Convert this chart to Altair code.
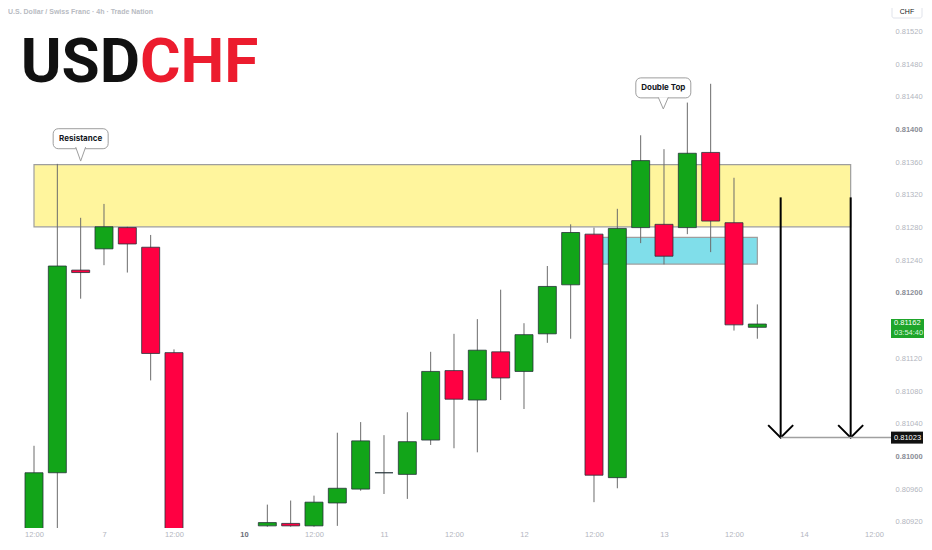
import altair as alt
import pandas as pd

# ---------------- data ----------------
candle_idx = [0, 1, 2, 3, 4, 5, 6, 10, 11, 12, 13, 14, 15, 16, 17, 18, 19, 20, 21, 22,
              23, 24, 25, 26, 27, 28, 29, 30, 31]
opens  = [0.80900, 0.80980, 0.81228, 0.81254, 0.81280, 0.81256, 0.81127, 0.80915, 0.80918, 0.80915,
          0.80943, 0.80960, 0.80980, 0.80978, 0.81020, 0.81105, 0.81069, 0.81128, 0.81104, 0.81150,
          0.81210, 0.81272, 0.80974, 0.81280, 0.81284, 0.81280, 0.81372, 0.81286, 0.81158]
highs  = [0.81013, 0.81358, 0.81292, 0.81309, 0.81281, 0.81271, 0.81131, 0.80941, 0.80946, 0.80952,
          0.81029, 0.81042, 0.81026, 0.81054, 0.81128, 0.81150, 0.81168, 0.81204, 0.81163, 0.81233,
          0.81284, 0.81280, 0.81303, 0.81393, 0.81376, 0.81433, 0.81456, 0.81341, 0.81186]
lows   = [0.80895, 0.80890, 0.81193, 0.81234, 0.81225, 0.81093, 0.80850, 0.80914, 0.80914, 0.80914,
          0.80915, 0.80958, 0.80954, 0.80948, 0.81014, 0.81010, 0.81005, 0.81069, 0.81058, 0.81139,
          0.81144, 0.80944, 0.80961, 0.81261, 0.81235, 0.81272, 0.81250, 0.81154, 0.81144]
closes = [0.80980, 0.81233, 0.81225, 0.81281, 0.81260, 0.81126, 0.80880, 0.80919, 0.80915, 0.80944,
          0.80961, 0.81019, 0.80980, 0.81018, 0.81104, 0.81070, 0.81130, 0.81096, 0.81149, 0.81208,
          0.81274, 0.80977, 0.81279, 0.81362, 0.81245, 0.81371, 0.81288, 0.81161, 0.81162]

x_tick_values = [0, 3, 6, 9, 12, 15, 18, 21, 24, 27, 30, 33, 36]
x_tick_labels = ["12:00", "7", "12:00", "10", "12:00", "11", "12:00", "12", "12:00", "13", "12:00", "14", "12:00"]
# 0.81160 is hidden behind the last-price tag in the reference
y_tick_values = [0.8092, 0.8096, 0.8100, 0.8104, 0.8108, 0.8112, 0.8120, 0.8124,
                 0.8128, 0.8132, 0.8136, 0.8140, 0.8144, 0.8148, 0.8152]

res_zone = {"x0": 0, "x1": 35, "lo": 0.81281, "hi": 0.81357}
neck_zone = {"x0": 24.3, "x1": 31, "lo": 0.812354, "hi": 0.81268}

arrow_x = [32, 35]
arrow_top = [0.81317, 0.81317]
target_price = 0.81023
last_price = 0.81162

callout_text = ["Resistance", "Double Top"]
callout_x = [2.0, 26.97]
callout_y = [0.813888, 0.81451]
pointer_y = [0.81370, 0.814323]

# ---------------- frames ----------------
candles = pd.DataFrame({"i": candle_idx, "open": opens, "high": highs, "low": lows, "close": closes})
candles["dir"] = ["up" if c > o else ("down" if c < o else "flat") for o, c in zip(opens, closes)]
arrows = pd.DataFrame({"i": arrow_x, "top": arrow_top, "tip": [target_price] * len(arrow_x)})
callouts = pd.DataFrame({"t": callout_text, "i": callout_x, "p": callout_y, "pp": pointer_y})

# ---------------- geometry ----------------
W, H = 881, 520
PX = 23.3333                      # pixels per 4h candle
PY = 81713.0                      # pixels per 1.0 of price
xs = alt.Scale(domain=[-26 / PX, (W - 26) / PX], nice=False, zero=False, padding=0)
ys = alt.Scale(domain=[0.8152 - (H - 23.5) / PY, 0.8152 + 23.5 / PY], nice=False, zero=False, padding=0)

AF = "Liberation Sans"
lab_expr = "[" + ",".join("'%s'" % s for s in x_tick_labels) + "][round(datum.value/3)]"
x_axis = alt.Axis(values=x_tick_values, labelExpr=lab_expr, grid=False, ticks=False, domain=False,
                  title=None, labelFontSize=7.5, labelFont=AF, labelPadding=2,
                  labelColor={"condition": {"test": "datum.value == 9", "value": "#6a6d78"}, "value": "#b2b5be"},
                  labelFontWeight={"condition": {"test": "datum.value == 9", "value": "bold"}, "value": "normal"},
                  labelOverlap=False, labelFlush=False, labelBound=False)
bold_test = "abs(datum.value-0.81)<1e-7 || abs(datum.value-0.812)<1e-7 || abs(datum.value-0.814)<1e-7"
y_axis = alt.Axis(values=y_tick_values, format=".5f", orient="right", grid=False, ticks=False, domain=False,
                  title=None, labelFontSize=7.5, labelFont=AF, labelPadding=6, labelAlign="left",
                  labelColor={"condition": {"test": bold_test, "value": "#8a8d96"}, "value": "#b2b5be"},
                  labelFontWeight={"condition": {"test": bold_test, "value": "bold"}, "value": "normal"},
                  labelOverlap=False, labelFlush=False, labelBound=False)


def X(f):
    return alt.X(f, type="quantitative", scale=xs, axis=x_axis)


def Y(f):
    return alt.Y(f, type="quantitative", scale=ys, axis=y_axis)


def zone(z, fill):
    return alt.Chart(pd.DataFrame([z])).mark_rect(fill=fill, stroke="#9e9e9e", strokeWidth=1.2).encode(
        x=X("x0"), x2="x1", y=Y("lo"), y2="hi")


zone_res = zone(res_zone, "#fff59d")
zone_neck = zone(neck_zone, "#80deea")

base_c = alt.Chart(candles)
wicks = base_c.mark_rule(color="#6b6b6b", strokeWidth=1, clip=True).encode(
    x=X("i"), y=Y("low"), y2="high")


def body(d, fill):
    return base_c.transform_filter(alt.datum.dir == d).mark_bar(
        size=18, fill=fill, stroke="#263238", strokeWidth=0.8, clip=True).encode(
        x=X("i"), y=Y("open"), y2="close")


bodies_up = body("up", "#12a519")
bodies_dn = body("down", "#ff0042")
bodies_flat = body("flat", "#222222")

arrow_shafts = alt.Chart(arrows).mark_rule(color="#000000", strokeWidth=2).encode(
    x=X("i"), y=Y("top"), y2="tip")
arrow_heads = alt.Chart(arrows).mark_point(shape="M-1,-1L0,0L1,-1", size=625, filled=False,
                                           color="#000000", strokeWidth=2, opacity=1).encode(
    x=X("i"), y=Y("tip"))

target_line = alt.Chart(pd.DataFrame({"i": [arrow_x[0]], "p": [target_price]})).mark_rule(
    color="#a0a0a0", strokeWidth=1.5).encode(x=X("i"), x2=alt.value(W + 2), y=Y("p"))

call_box = alt.Chart(callouts).mark_rect(width=55, height=20, cornerRadius=5, fill="white",
                                         stroke="#9e9e9e", strokeWidth=1).encode(x=X("i"), y=Y("p"))
call_ptr_r = alt.Chart(callouts.iloc[[0]]).mark_point(shape="M-0.71,-1L0,1L0.71,-1", size=196, filled=True,
                                                      fill="white", stroke="#9e9e9e", strokeWidth=1,
                                                      opacity=1).encode(x=X("i"), y=Y("pp"))
call_ptr_d = alt.Chart(callouts.iloc[[1]]).mark_point(shape="M-0.86,-1L0,1L0.86,-1", size=135, filled=True,
                                                      fill="white", stroke="#9e9e9e", strokeWidth=1,
                                                      opacity=1).encode(x=X("i"), y=Y("pp"))
call_text = alt.Chart(callouts).mark_text(fontSize=8, fontWeight="bold", font="Inter", color="#131722").encode(
    x=X("i"), y=Y("p"), text="t:N")

# price tags on the right scale
last_df = pd.DataFrame({"p": [last_price], "a": ["%.5f" % last_price], "b": ["03:54:40"]})
tgt_df = pd.DataFrame({"p": [target_price], "a": ["%.5f" % target_price]})
last_box = alt.Chart(last_df).mark_rect(height=19, yOffset=4.5, color="#1ea52a").encode(
    x=alt.value(W + 2), x2=alt.value(W + 35), y=Y("p"))
last_t1 = alt.Chart(last_df).mark_text(align="left", fontSize=7.5, font=AF, color="white", dy=-1).encode(
    x=alt.value(W + 5), y=Y("p"), text="a:N")
last_t2 = alt.Chart(last_df).mark_text(align="left", fontSize=7.5, font=AF, color="#d8f5dc", dy=9).encode(
    x=alt.value(W + 5), y=Y("p"), text="b:N")
tgt_box = alt.Chart(tgt_df).mark_rect(height=12, color="#111111").encode(
    x=alt.value(W + 2), x2=alt.value(W + 34), y=Y("p"))
tgt_t = alt.Chart(tgt_df).mark_text(align="left", fontSize=7.5, font=AF, color="white").encode(
    x=alt.value(W + 5), y=Y("p"), text="a:N")

# header texts
cur_box = alt.Chart(pd.DataFrame({"t": ["CHF"]})).mark_rect(fill="white", stroke="#e0e3eb", cornerRadius=2).encode(
    x=alt.value(W + 3), x2=alt.value(W + 33), y=alt.value(-2), y2=alt.value(10))
cur_txt = alt.Chart(pd.DataFrame({"t": ["CHF"]})).mark_text(fontSize=7, font=AF, color="#131722").encode(
    x=alt.value(W + 18), y=alt.value(4), text="t:N")
subtitle = alt.Chart(pd.DataFrame({"t": ["U.S. Dollar / Swiss Franc · 4h · Trade Nation"]})).mark_text(
    align="left", baseline="top", fontSize=7, font=AF, fontWeight="bold", color="#b8bbc2").encode(
    x=alt.value(0), y=alt.value(0), text="t:N")

TF = "Roboto"
TS = 62
SPLIT = 132
BASE = 74
title_df = pd.DataFrame({"a": ["USD"], "b": ["CHF"]})


def ttext(field, align, color):
    return alt.Chart(title_df).mark_text(align=align, baseline="alphabetic", fontSize=TS, font=TF,
                                         fontWeight="bold", color=color).encode(
        x=alt.value(SPLIT), y=alt.value(BASE), text=field + ":N")


title_a = ttext("a", "right", "#111111")
title_b = ttext("b", "left", "#ec1c2e")

chart = alt.layer(
    zone_res, zone_neck, wicks, bodies_up, bodies_dn, bodies_flat,
    arrow_shafts, arrow_heads, target_line,
    call_box, call_ptr_r, call_ptr_d, call_text,
    last_box, last_t1, last_t2, tgt_box, tgt_t,
    cur_box, cur_txt, subtitle, title_a, title_b,
).properties(
    width=W, height=H,
    autosize=alt.AutoSizeParams(type="none"),
    padding={"left": 0, "top": 0, "right": 35, "bottom": 9},
).configure(background="white").configure_view(stroke=None)

chart.save("out.html", embed_options={"renderer": "svg", "actions": False})
